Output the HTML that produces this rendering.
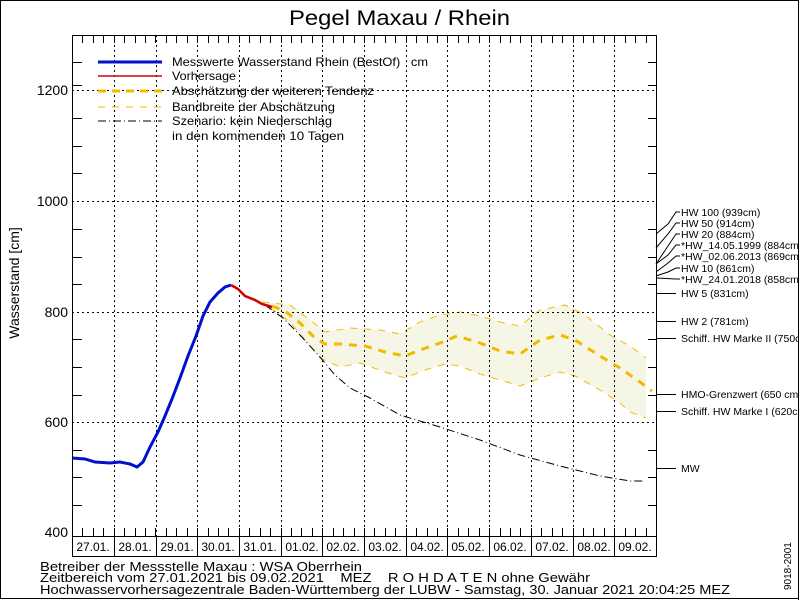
<!DOCTYPE html>
<html><head><meta charset="utf-8"><style>
html,body{margin:0;padding:0;background:#fff}
svg{display:block}
text{font-family:"Liberation Sans",sans-serif;fill:#000}
</style></head><body>
<svg width="800" height="600" viewBox="0 0 800 600" xmlns="http://www.w3.org/2000/svg">
<rect x="0.5" y="0.5" width="798" height="598" fill="#fff" stroke="#000"/>
<text x="289" y="25" font-size="21" textLength="221" lengthAdjust="spacingAndGlyphs">Pegel Maxau / Rhein</text>
<text transform="translate(19,283) rotate(-90)" font-size="14" text-anchor="middle">Wasserstand [cm]</text>
<!-- band -->
<path d="M262,302 L290,305 L310,320 L325,332 L350,328 L380,330 L400,334 L420,322 L440,315 L460,312 L480,316 L500,322 L520,326 L540,310 L565,305 L585,315 L610,335 L630,346 L646,358 L646,418 L630,412 L620,403 L600,390 L575,376 L560,372 L540,378 L520,386 L500,380 L480,374 L460,366 L445,364 L425,370 L405,378 L385,372 L360,363 L340,367 L320,358 L305,340 L290,322 L270,308 Z" fill="#f6f6e6"/>
<g fill="none" stroke="#f5b800" stroke-width="1" stroke-dasharray="7,7">
<polyline points="262,302 290,305 310,320 325,332 350,328 380,330 400,334 420,322 440,315 460,312 480,316 500,322 520,326 540,310 565,305 585,315 610,335 630,346 646,358"/>
<polyline points="270,308 290,322 305,340 320,358 340,367 360,363 385,372 405,378 425,370 445,364 460,366 480,374 500,380 520,386 540,378 560,372 575,376 600,390 620,403 630,412 646,418"/>
</g>
<!-- grid -->
<g stroke="#000" stroke-width="1" stroke-dasharray="2,3">
<line x1="72" y1="90.5" x2="656" y2="90.5"/><line x1="72" y1="201.5" x2="656" y2="201.5"/>
<line x1="72" y1="312.5" x2="656" y2="312.5"/><line x1="72" y1="422.5" x2="656" y2="422.5"/>
<line x1="114.5" y1="35" x2="114.5" y2="536"/><line x1="156.5" y1="35" x2="156.5" y2="536"/>
<line x1="197.5" y1="35" x2="197.5" y2="536"/><line x1="239.5" y1="35" x2="239.5" y2="536"/>
<line x1="281.5" y1="35" x2="281.5" y2="536"/><line x1="322.5" y1="35" x2="322.5" y2="536"/>
<line x1="364.5" y1="35" x2="364.5" y2="536"/><line x1="406.5" y1="35" x2="406.5" y2="536"/>
<line x1="447.5" y1="35" x2="447.5" y2="536"/><line x1="489.5" y1="35" x2="489.5" y2="536"/>
<line x1="531.5" y1="35" x2="531.5" y2="536"/><line x1="573.5" y1="35" x2="573.5" y2="536"/>
<line x1="614.5" y1="35" x2="614.5" y2="536"/>
</g>
<!-- black scenario -->
<polyline points="265,305 283,318 300,335 320,357 335,375 350,388 370,398 400,415 440,427 480,440 520,455 560,466 600,476 630,481 645,481" fill="none" stroke="#000" stroke-width="1" stroke-dasharray="8,3,1,3"/>
<!-- median -->
<polyline points="272,306 285,311 300,323 315,338 325,344 340,344 365,346 385,352 405,356 420,350 440,343 457,336 480,343 500,351 520,354 540,340 560,335 575,340 600,356 620,368 640,382 652,391" fill="none" stroke="#f5b800" stroke-width="3" stroke-dasharray="8,7"/>
<!-- measured -->
<polyline points="72,458 85,459 95,462 110,463 120,462 130,464 137,467 143,462 150,447 158,432 165,416 172,399 180,378 188,356 196,336 203,316 210,302 218,293 225,287 231,285" fill="none" stroke="#0010cc" stroke-width="3"/>
<polyline points="231,285 238,289 245,296 255,300 262,304 272,307" fill="none" stroke="#d00000" stroke-width="2.5"/>
<!-- axes box -->
<rect x="72.5" y="35.5" width="584" height="501" fill="none" stroke="#000"/>
<g stroke="#000">
<path d="M72,85.5h10M72,146.5h10M72,257.5h10M72,367.5h10M72,477.5h10M72,62.5h10M72,118.5h10M72,173.5h10M72,229.5h10M72,284.5h10M72,339.5h10M72,395.5h10M72,450.5h10M72,505.5h10"/>
<path d="M656,62.5h-8M656,118.5h-8M656,173.5h-8M656,229.5h-8M656,284.5h-8M656,339.5h-8M656,395.5h-8M656,450.5h-8M656,505.5h-8M656,146.5h-8M656,257.5h-8M656,367.5h-8M656,477.5h-8M656,85.5h-8"/>
</g>
<g id="ticks" stroke="#000"></g>
<!-- day labels -->
<rect x="72.5" y="536.5" width="584" height="20" fill="none" stroke="#000"/>
<g stroke="#000"><path d="M114.5,536v20M156.5,536v20M197.5,536v20M239.5,536v20M281.5,536v20M322.5,536v20M364.5,536v20M406.5,536v20M447.5,536v20M489.5,536v20M531.5,536v20M573.5,536v20M614.5,536v20"/></g>
<g font-size="12" text-anchor="middle">
<text x="93" y="551">27.01.</text><text x="135" y="551">28.01.</text><text x="177" y="551">29.01.</text><text x="218" y="551">30.01.</text><text x="260" y="551">31.01.</text><text x="302" y="551">01.02.</text><text x="343" y="551">02.02.</text><text x="385" y="551">03.02.</text><text x="427" y="551">04.02.</text><text x="468" y="551">05.02.</text><text x="510" y="551">06.02.</text><text x="552" y="551">07.02.</text><text x="594" y="551">08.02.</text><text x="635" y="551">09.02.</text>
</g>
<g font-size="14" text-anchor="end">
<text x="68" y="537">400</text><text x="68" y="427">600</text><text x="68" y="317">800</text><text x="68" y="206">1000</text><text x="68" y="95">1200</text>
</g>
<!-- legend -->
<g font-size="12">
<line x1="98" y1="62" x2="162" y2="62" stroke="#0010cc" stroke-width="3"/><text x="172" y="66" textLength="256" lengthAdjust="spacingAndGlyphs" xml:space="preserve">Messwerte Wasserstand Rhein (BestOf)   cm</text>
<line x1="98" y1="76" x2="162" y2="76" stroke="#d00000" stroke-width="1.5"/><text x="172" y="80" textLength="64" lengthAdjust="spacingAndGlyphs">Vorhersage</text>
<line x1="98" y1="91" x2="162" y2="91" stroke="#f5b800" stroke-width="3" stroke-dasharray="8,6"/><text x="172" y="95" textLength="202" lengthAdjust="spacingAndGlyphs">Abschätzung der weiteren Tendenz</text>
<line x1="98" y1="107" x2="162" y2="107" stroke="#f5b800" stroke-width="1" stroke-dasharray="7,7"/><text x="172" y="111" textLength="163" lengthAdjust="spacingAndGlyphs">Bandbreite der Abschätzung</text>
<line x1="98" y1="121" x2="162" y2="121" stroke="#000" stroke-width="1" stroke-dasharray="8,3,1,3"/><text x="172" y="125" textLength="160" lengthAdjust="spacingAndGlyphs">Szenario: kein Niederschlag</text>
<text x="172" y="140" textLength="172" lengthAdjust="spacingAndGlyphs">in den kommenden 10 Tagen</text>
</g>
<!-- right labels -->
<g stroke="#000" fill="none">
<path d="M656,234 L668,224 L676,212 h4"/>
<path d="M656,248 L668,234 L676,223 h4"/>
<path d="M656,264 L668,246 L676,234 h4"/>
<path d="M656,264 L668,255 L676,245 h4"/>
<path d="M656,272 L668,263 L676,256 h4"/>
<path d="M656,276 L668,272 L676,268 h4"/>
<path d="M656,278 L676,279 h4"/>
<path d="M656,293.5h20M656,321.5h20M656,338.5h20M656,394.5h20M656,411.5h20M656,468.5h20"/>
</g>
<g font-size="10.5">
<text x="681" y="216">HW 100 (939cm)</text>
<text x="681" y="227">HW 50 (914cm)</text>
<text x="681" y="238">HW 20 (884cm)</text>
<text x="681" y="249">*HW_14.05.1999 (884cm)</text>
<text x="681" y="260">*HW_02.06.2013 (869cm)</text>
<text x="681" y="272">HW 10 (861cm)</text>
<text x="681" y="283">*HW_24.01.2018 (858cm)</text>
<text x="681" y="297">HW 5 (831cm)</text>
<text x="681" y="325">HW 2 (781cm)</text>
<text x="681" y="342">Schiff. HW Marke II (750cm)</text>
<text x="681" y="398">HMO-Grenzwert (650 cm)</text>
<text x="681" y="415">Schiff. HW Marke I (620cm)</text>
<text x="681" y="472">MW</text>
</g>
<rect x="798" y="0" width="2" height="600" fill="#fff"/>
<line x1="798.5" y1="0" x2="798.5" y2="600" stroke="#000"/>
<text transform="translate(791,590) rotate(-90)" font-size="10">9018-2001</text>
<g font-size="13">
<text x="40" y="571" fill="#555" textLength="322" lengthAdjust="spacingAndGlyphs">Betreiber der Messstelle Maxau : WSA Oberrhein</text>
<text x="40" y="582" fill="#555" textLength="550" lengthAdjust="spacingAndGlyphs" xml:space="preserve">Zeitbereich vom 27.01.2021 bis 09.02.2021    MEZ    R O H D A T E N ohne Gewähr</text>
<text x="40" y="594" fill="#555" textLength="690" lengthAdjust="spacingAndGlyphs">Hochwasservorhersagezentrale Baden-Württemberg der LUBW - Samstag, 30. Januar 2021 20:04:25 MEZ</text>
</g>
<script>
var g=document.getElementById('ticks');var s='';
for(var x=72;x<=656;x+=41.71/4){var xx=Math.round(x)+0.5;s+='M'+xx+',35v8M'+xx+',536v-8';}
var p=document.createElementNS('http://www.w3.org/2000/svg','path');p.setAttribute('d',s);g.appendChild(p);
</script>
</svg>
</body></html>
